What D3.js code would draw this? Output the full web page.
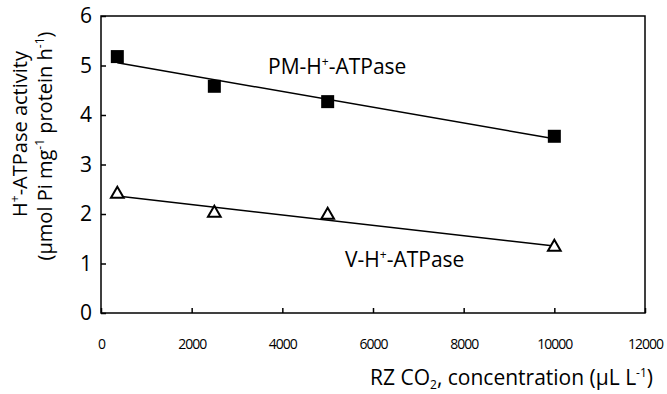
<!DOCTYPE html>
<html><head><meta charset="utf-8">
<script src="https://cdn.jsdelivr.net/npm/d3@7"></script>
<style>body{margin:0;background:#fff}svg{display:block}text{font-family:"Open Sans",sans-serif;fill:#000}</style>
</head><body>
<svg id="c" width="667" height="394"></svg>
<script>
const co2 = [360, 2500, 5000, 10000];
const pmValues = [5.18, 4.58, 4.27, 3.57];
const vValues = [2.40, 2.02, 1.98, 1.33];
const xTicks = [0, 2000, 4000, 6000, 8000, 10000, 12000];
const yTicks = [0, 1, 2, 3, 4, 5, 6];

const svg = d3.select("#c");
const m = {l:101, r:645, t:16, b:313};
const x = d3.scaleLinear().domain([0,12000]).range([m.l, m.r]);
const y = d3.scaleLinear().domain([0,6]).range([m.b, m.t]);

// frame
svg.append("rect").attr("x",m.l).attr("y",m.t).attr("width",m.r-m.l).attr("height",m.b-m.t)
  .attr("fill","none").attr("stroke","#000").attr("stroke-width",1.5);

// axes
const ya = svg.append("g").attr("transform",`translate(${m.l},0)`)
  .call(d3.axisLeft(y).tickValues(yTicks).tickSizeInner(-5).tickSizeOuter(0).tickPadding(9).tickFormat(d3.format("d")));
ya.select(".domain").remove();
ya.selectAll("line").attr("stroke-width",1.5);
ya.selectAll("text").attr("font-size",21).attr("font-family","Open Sans");

const xa = svg.append("g").attr("transform",`translate(0,${m.b})`)
  .call(d3.axisBottom(x).tickValues(xTicks).tickSizeInner(-5).tickSizeOuter(0).tickPadding(26).tickFormat(d3.format("d")));
xa.select(".domain").remove();
xa.selectAll("line").attr("stroke-width",1.5);
xa.selectAll("text").attr("font-size",14).attr("letter-spacing","-1").attr("font-family","Open Sans");

// regression lines
function fit(xs, ys){
  const mx=d3.mean(xs), my=d3.mean(ys);
  const s=d3.sum(xs,(v,i)=>(v-mx)*(ys[i]-my))/d3.sum(xs,v=>(v-mx)*(v-mx));
  return v=>my+s*(v-mx);
}
[pmValues, vValues].forEach(vals=>{
  const f=fit(co2,vals);
  const x0=d3.min(co2), x1=d3.max(co2);
  svg.append("line").attr("x1",x(x0)).attr("y1",y(f(x0))).attr("x2",x(x1)).attr("y2",y(f(x1)))
    .attr("stroke","#000").attr("stroke-width",1.5);
});

// markers
svg.selectAll(".sq").data(co2).enter().append("rect")
  .attr("x",(d)=>x(d)-6.5).attr("y",(d,i)=>y(pmValues[i])-6.5).attr("width",13).attr("height",13).attr("fill","#000");
const tri = d3.symbol().type(d3.symbolTriangle).size(70);
svg.selectAll(".tr").data(co2).enter().append("path")
  .attr("d",tri).attr("transform",(d,i)=>`translate(${x(d)},${y(vValues[i])})`)
  .attr("fill","#fff").attr("stroke","#000").attr("stroke-width",2);

// series labels
const lab = svg.append("text").attr("x",268).attr("y",74).attr("font-size",21);
lab.append("tspan").text("PM-H");
lab.append("tspan").text("+").attr("font-size",12).attr("dy",-8);
lab.append("tspan").text("-ATPase").attr("dy",8);
const lab2 = svg.append("text").attr("x",345).attr("y",267).attr("font-size",21);
lab2.append("tspan").text("V-H");
lab2.append("tspan").text("+").attr("font-size",12).attr("dy",-8);
lab2.append("tspan").text("-ATPase").attr("dy",8);

// x title
const xt = svg.append("text").attr("x",370).attr("y",385).attr("font-size",21);
xt.append("tspan").text("RZ CO");
xt.append("tspan").text("2").attr("font-size",12).attr("dy",4);
xt.append("tspan").text(", concentration (µL L").attr("dy",-4);
xt.append("tspan").text("-1").attr("font-size",12).attr("dy",-8);
xt.append("tspan").text(")").attr("dy",8);

// y title
const yt1 = svg.append("text").attr("transform","translate(27,134) rotate(-90)").attr("text-anchor","middle").attr("font-size",20);
yt1.append("tspan").text("H");
yt1.append("tspan").text("+").attr("font-size",12).attr("dy",-8);
yt1.append("tspan").text("-ATPase activity").attr("dy",8);
const yt2 = svg.append("text").attr("transform","translate(52,146) rotate(-90)").attr("text-anchor","middle").attr("font-size",20);
yt2.append("tspan").text("(µmol Pi mg");
yt2.append("tspan").text("-1").attr("font-size",12).attr("dy",-8);
yt2.append("tspan").text(" protein h").attr("dy",8);
yt2.append("tspan").text("-1").attr("font-size",12).attr("dy",-8);
yt2.append("tspan").text(")").attr("dy",8);
</script>
</body></html>
